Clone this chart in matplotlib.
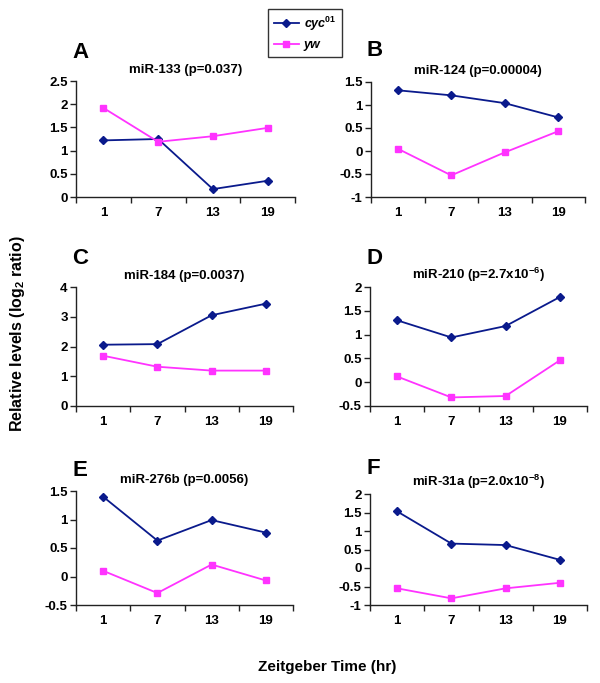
import matplotlib
matplotlib.use("Agg")
import matplotlib.pyplot as plt
from matplotlib.lines import Line2D

plt.rcParams['font.family'] = ['Liberation Sans', 'DejaVu Sans']
plt.rcParams['font.weight'] = 'bold'
plt.rcParams['mathtext.fontset'] = 'custom'
plt.rcParams['mathtext.rm'] = 'Liberation Sans:bold'
plt.rcParams['mathtext.bf'] = 'Liberation Sans:bold'
plt.rcParams['mathtext.it'] = 'Liberation Sans:bold:italic'

# Zeitgeber time points
times = ['1', '7', '13', '19']

letters = ['A', 'B', 'C', 'D', 'E', 'F']
titles = ['miR-133 (p=0.037)', 'miR-124 (p=0.00004)', 'miR-184 (p=0.0037)',
          r'miR-210 (p=2.7x10$^{\mathbf{-6}}$)', 'miR-276b (p=0.0056)',
          r'miR-31a (p=2.0x10$^{\mathbf{-8}}$)']

cyc_A = [1.22, 1.25, 0.17, 0.35]
yw_A = [1.92, 1.19, 1.31, 1.49]
cyc_B = [1.32, 1.21, 1.04, 0.73]
yw_B = [0.05, -0.53, -0.03, 0.43]
cyc_C = [2.06, 2.08, 3.05, 3.44]
yw_C = [1.69, 1.32, 1.19, 1.19]
cyc_D = [1.30, 0.94, 1.18, 1.79]
yw_D = [0.12, -0.32, -0.29, 0.46]
cyc_E = [1.40, 0.63, 0.99, 0.77]
yw_E = [0.10, -0.29, 0.21, -0.07]
cyc_F = [1.53, 0.66, 0.62, 0.22]
yw_F = [-0.55, -0.82, -0.55, -0.40]

cyc_all = [cyc_A, cyc_B, cyc_C, cyc_D, cyc_E, cyc_F]
yw_all = [yw_A, yw_B, yw_C, yw_D, yw_E, yw_F]

yticks_all = [
    [0, 0.5, 1, 1.5, 2, 2.5],
    [-1, -0.5, 0, 0.5, 1, 1.5],
    [0, 1, 2, 3, 4],
    [-0.5, 0, 0.5, 1, 1.5, 2],
    [-0.5, 0, 0.5, 1, 1.5],
    [-1, -0.5, 0, 0.5, 1, 1.5, 2],
]

NAVY = '#0a1a8c'
MAGENTA = '#ff33ff'

W, H = 600, 683
fig = plt.figure(figsize=(W / 100, H / 100), dpi=100)

# axes boxes in pixels: left, right, top, bottom
boxes = [
    (76, 295, 81, 197), (371, 585, 82, 197),
    (76, 293, 287, 406), (370, 587, 287, 406),
    (76, 293, 491, 605), (370, 587, 494, 605),
]
letter_pos = [(72, 52), (366, 50), (72, 258), (366, 259), (72, 470), (367, 469)]

for i in range(6):
    l, r, t, b = boxes[i]
    ax = fig.add_axes([l / W, 1 - b / H, (r - l) / W, (b - t) / H])
    x = list(range(len(times)))
    ax.plot(x, cyc_all[i], color=NAVY, lw=1.3, marker='D', ms=4.5, mec=NAVY, mfc=NAVY)
    ax.plot(x, yw_all[i], color=MAGENTA, lw=1.3, marker='s', ms=4.5, mec=MAGENTA, mfc=MAGENTA)
    yt = yticks_all[i]
    ax.set_ylim(yt[0], yt[-1])
    ax.set_yticks(yt)
    ax.set_yticklabels(['%g' % v for v in yt], fontsize=9.5, fontweight='bold')
    ax.set_xlim(-0.5, 3.5)
    ax.set_xticks(x)
    ax.set_xticklabels(times, fontsize=9.5, fontweight='bold')
    ax.set_xticks([-0.5, 0.5, 1.5, 2.5, 3.5], minor=True)
    ax.tick_params(axis='x', which='major', length=0, pad=7)
    ax.tick_params(axis='x', which='minor', length=4, width=1, direction='out', color='#222222')
    ax.tick_params(axis='y', length=4, width=1, direction='out', color='#222222', pad=2)
    for s in ['top', 'right']:
        ax.spines[s].set_visible(False)
    for s in ['left', 'bottom']:
        ax.spines[s].set_color('#222222')
        ax.spines[s].set_linewidth(1)
    ax.set_title(titles[i], fontsize=9.5, fontweight='bold', pad=6)
    lx, ly = letter_pos[i]
    fig.text(lx / W, 1 - ly / H, letters[i], fontsize=16, fontweight='bold', ha='left', va='center')

fig.text(18 / W, 1 - 334 / H, r'Relative levels (log$_{\mathbf{2}}$ ratio)', rotation=90,
         fontsize=11.5, fontweight='bold', ha='center', va='center')
fig.text(327 / W, 1 - 667 / H, 'Zeitgeber Time (hr)', fontsize=11, fontweight='bold',
         ha='center', va='center')

handles = [
    Line2D([], [], color=NAVY, lw=1.3, marker='D', ms=4.5),
    Line2D([], [], color=MAGENTA, lw=1.3, marker='s', ms=4.5),
]
leg = fig.legend(handles, [r'cyc$^{\mathbf{01}}$', 'yw'], loc='upper left',
                 bbox_to_anchor=(268 / W, 1 - 9 / H), borderaxespad=0,
                 prop={'style': 'italic', 'weight': 'bold', 'size': 9},
                 frameon=True, fancybox=False, edgecolor='black', handlelength=2.0,
                 handletextpad=0.4, labelspacing=0.5, borderpad=0.45)
leg.get_frame().set_linewidth(1)

fig.savefig('out.png', dpi=100)
